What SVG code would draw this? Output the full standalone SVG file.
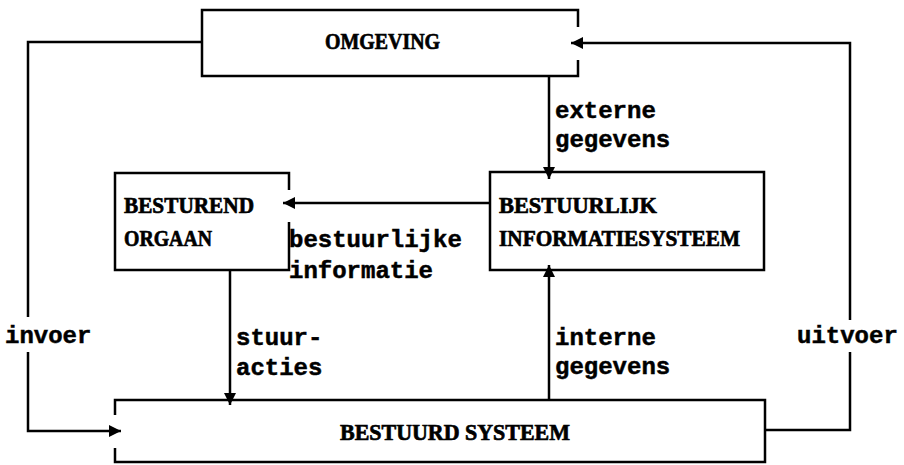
<svg xmlns="http://www.w3.org/2000/svg" width="904" height="465" viewBox="0 0 904 465">
<style>
.box{fill:none;stroke:#000;stroke-width:2.5}
.conn{fill:none;stroke:#000;stroke-width:2.5}
.cap{font-family:"Liberation Serif","Times New Roman",serif;font-weight:bold;font-size:23px;fill:#000;stroke:#000;stroke-width:0.7}
.lbl{font-family:"Liberation Mono","Courier New",monospace;font-weight:bold;font-size:24px;fill:#000;stroke:#000;stroke-width:0.5}
</style>
<defs>
<marker id="ah" viewBox="0 0 12 12" refX="12" refY="6" markerWidth="12" markerHeight="12" markerUnits="userSpaceOnUse" orient="auto">
<path d="M0,0 L12,6 L0,12 z" fill="#000"/>
</marker>
</defs>
<rect width="904" height="465" fill="#fff"/>
<g id="omgeving">
<path class="box" d="M578,27 V10 H202 V76 H578 V60"/>
<text class="cap" x="325" y="49" textLength="115" lengthAdjust="spacingAndGlyphs">OMGEVING</text>
</g>
<g id="besturend-orgaan">
<path class="box" d="M289,190 V173 H115 V270 H289 V222"/>
<text class="cap" x="124" y="213" textLength="130" lengthAdjust="spacingAndGlyphs">BESTUREND</text>
<text class="cap" x="124" y="246" textLength="88" lengthAdjust="spacingAndGlyphs">ORGAAN</text>
</g>
<g id="bestuurlijk-informatiesysteem">
<rect class="box" x="490" y="172" width="274" height="98"/>
<text class="cap" x="499" y="213" textLength="158" lengthAdjust="spacingAndGlyphs">BESTUURLIJK</text>
<text class="cap" x="499" y="246" textLength="241" lengthAdjust="spacingAndGlyphs">INFORMATIESYSTEEM</text>
</g>
<g id="bestuurd-systeem">
<path class="box" d="M115,415 V400 H765 V462 H115 V448"/>
<text class="cap" x="340" y="440" textLength="230" lengthAdjust="spacingAndGlyphs">BESTUURD SYSTEEM</text>
</g>
<g id="connectors">
<path class="conn" d="M202,42 H28 V317"/>
<path class="conn" d="M28,352 V431 H121" marker-end="url(#ah)"/>
<path class="conn" d="M765,430 H850 V352"/>
<path class="conn" d="M850,320 V43 H571" marker-end="url(#ah)"/>
<path class="conn" d="M549,76 V179" marker-end="url(#ah)"/>
<path class="conn" d="M490,203 H283" marker-end="url(#ah)"/>
<path class="conn" d="M230,270 V405" marker-end="url(#ah)"/>
<path class="conn" d="M549,400 V265" marker-end="url(#ah)"/>
</g>
<g id="labels">
<text class="lbl" x="555" y="118">externe</text>
<text class="lbl" x="555" y="147">gegevens</text>
<text class="lbl" x="289" y="247">bestuurlijke</text>
<text class="lbl" x="289" y="278">informatie</text>
<text class="lbl" x="236" y="345">stuur-</text>
<text class="lbl" x="236" y="375">acties</text>
<text class="lbl" x="555" y="345">interne</text>
<text class="lbl" x="555" y="374">gegevens</text>
<text class="lbl" x="5" y="343">invoer</text>
<text class="lbl" x="797" y="343">uitvoer</text>
</g>
</svg>
